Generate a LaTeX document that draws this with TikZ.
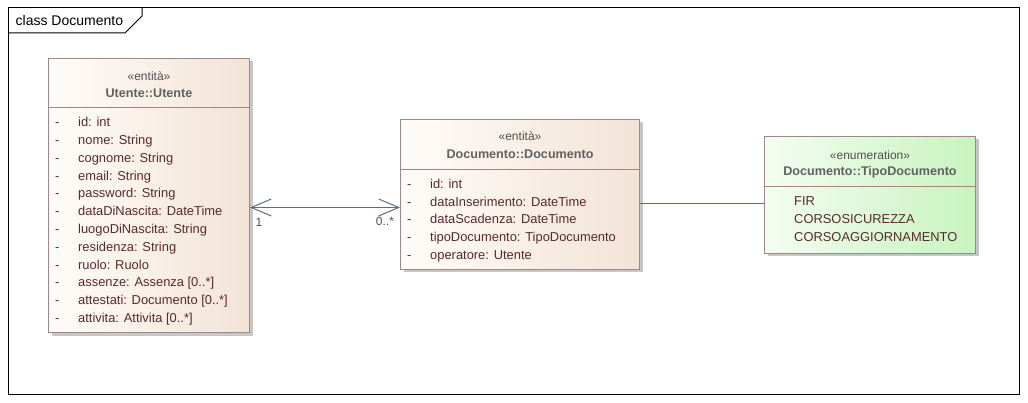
\documentclass[tikz,border=0pt]{standalone}
\usepackage{fontspec}
\setmainfont{Liberation Sans}
\usepackage{xcolor}
\usepackage{tikz}
\usetikzlibrary{positioning,arrows.meta,shadows}
\definecolor{entLeft}{HTML}{FFFCF9}
\definecolor{entRight}{HTML}{F2E3D6}
\definecolor{enumLeft}{HTML}{F3FDF1}
\definecolor{enumRight}{HTML}{C8F3BF}
\definecolor{umlBorder}{HTML}{A08686}
\definecolor{attrText}{HTML}{5A2A2A}
\definecolor{headText}{HTML}{505050}
\definecolor{assocLine}{HTML}{5E6C8A}

\begin{document}
\begin{tikzpicture}[x=1pt,y=-1pt,
  classbox/.style={draw=umlBorder,line width=1pt,anchor=north west,inner sep=0pt,
    drop shadow={shadow xshift=3pt,shadow yshift=-3pt,fill=black!22,opacity=1}},
  entity/.style={classbox,left color=entLeft,right color=entRight},
  enumbox/.style={classbox,left color=enumLeft,right color=enumRight},
  stereo/.style={inner sep=0pt,font=\fontsize{12}{14}\selectfont,text=headText},
  cname/.style={inner sep=0pt,font=\fontsize{12.6}{15}\selectfont\bfseries,text=headText!90},
  attr/.style={anchor=base west,inner sep=0pt,font=\fontsize{12.9}{15}\selectfont,text=attrText},
  mult/.style={inner sep=0pt,font=\fontsize{12}{14}\selectfont,text=headText},
  divider/.style={draw=umlBorder,line width=1pt},
  open end/.tip={Straight Barb[length=20pt,width=17pt,line width=1pt]},
  assoc/.style={draw=assocLine,line width=1pt}]
\useasboundingbox (0,0) rectangle (1028,403);

% frame
\draw[line width=1pt] (8,8) rectangle (1019,394);
\draw[line width=1pt] (8,33) -- (125,33) -- (142,16) -- (142,8);
\node[anchor=west,inner sep=0pt,font=\fontsize{14}{16}\selectfont] (frameTab) at (15.5,20.5) {class Documento};

% Utente
\node[entity,minimum width=201pt,minimum height=274pt] (utente) at (48,58) {};
\node[stereo] (utenteSt) at ([yshift=-18pt]utente.north) {«entità»};
\node[cname] (utenteNm) at ([yshift=-35pt]utente.north) {Utente::Utente};
\draw[divider] ([yshift=-50pt]utente.north west) -- ([yshift=-50pt]utente.north east);
\foreach \a [count=\i] in {id: int,nome: String,cognome: String,email: String,password: String,
  dataDiNascita: DateTime,luogoDiNascita: String,residenza: String,ruolo: Ruolo,
  assenze: Assenza [0..*],attestati: Documento [0..*],attivita: Attivita [0..*]}{
  \pgfmathsetmacro{\yy}{51+17.8*\i}
  \node[attr] (ud\i) at ([xshift=7pt,yshift=-\yy]utente.north west) {-};
  \node[attr] (ua\i) at ([xshift=30pt,yshift=-\yy]utente.north west) {\a};
}

% Documento
\node[entity,minimum width=239pt,minimum height=150pt] (docu) at (400,119) {};
\node[stereo] (docuSt) at ([yshift=-17.5pt]docu.north) {«entità»};
\node[cname] (docuNm) at ([yshift=-35pt]docu.north) {Documento::Documento};
\draw[divider] ([yshift=-50.5pt]docu.north west) -- ([yshift=-50.5pt]docu.north east);
\foreach \a [count=\i] in {id: int,dataInserimento: DateTime,dataScadenza: DateTime,
  tipoDocumento: TipoDocumento,operatore: Utente}{
  \pgfmathsetmacro{\yy}{51.5+17.8*\i}
  \node[attr] (dd\i) at ([xshift=7pt,yshift=-\yy]docu.north west) {-};
  \node[attr] (da\i) at ([xshift=30pt,yshift=-\yy]docu.north west) {\a};
}

% TipoDocumento
\node[enumbox,minimum width=211pt,minimum height=117pt] (tipo) at (764,136) {};
\node[stereo] (tipoSt) at ([yshift=-19pt]tipo.north) {«enumeration»};
\node[cname] (tipoNm) at ([yshift=-36pt]tipo.north) {Documento::TipoDocumento};
\draw[divider] ([yshift=-51pt]tipo.north west) -- ([yshift=-51pt]tipo.north east);
\foreach \a [count=\i] in {FIR,CORSOSICUREZZA,CORSOAGGIORNAMENTO}{
  \pgfmathsetmacro{\yy}{51.5+18*\i}
  \node[attr] (ta\i) at ([xshift=30pt,yshift=-\yy]tipo.north west) {\a};
}

% connectors
\coordinate (assocL) at ([yshift=-12pt]utente.east);
\coordinate (assocR) at (assocL -| docu.west);
\draw[assoc,open end-open end] (assocL) -- (assocR);
\node[mult] (multL) at ([xshift=9pt,yshift=-15pt]assocL) {1};
\node[mult] (multR) at ([xshift=-15pt,yshift=-14pt]assocR) {0..*};
\draw[assoc] ([yshift=-9pt]docu.east) -- ([yshift=-9pt]docu.east -| tipo.west);
\end{tikzpicture}
\end{document}
